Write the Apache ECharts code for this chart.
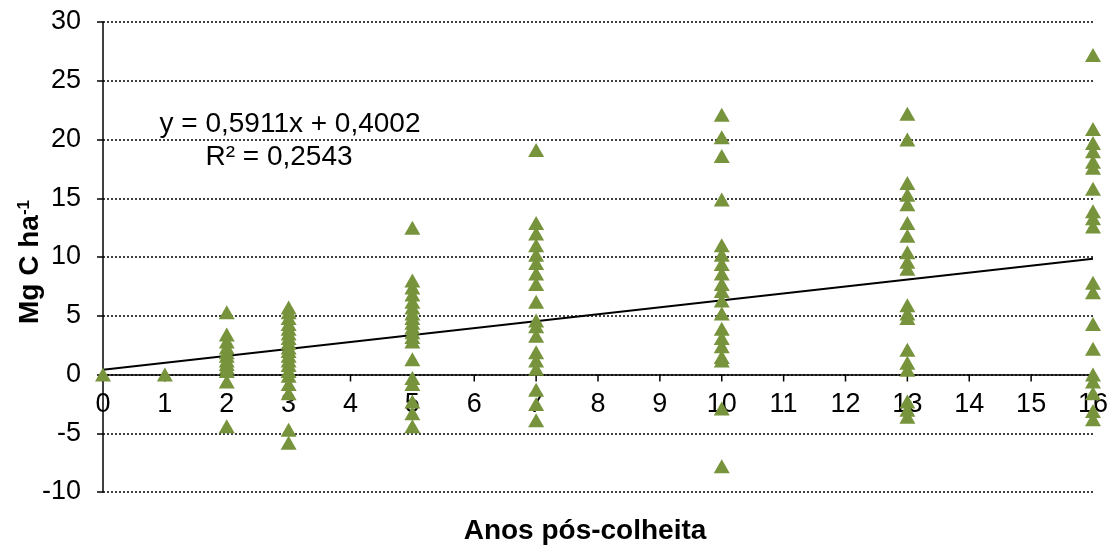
<!DOCTYPE html>
<html>
<head>
<meta charset="utf-8">
<script src="https://cdn.jsdelivr.net/npm/echarts@6/dist/echarts.min.js"></script>
<style>
  html, body { margin: 0; padding: 0; background: #fff; }
  #chart { width: 1115px; height: 549px; }
</style>
</head>
<body>
<div id="chart"></div>
<script>
// Years after harvest and the carbon measured at each (Mg C ha-1)
const years = [0, 1, 2, 3, 5, 7, 10, 13, 16];
const carbonByYear = [
  [0],
  [0],
  [5.3, 3.4, 2.8, 2.3, 1.9, 1.6, 1.2, 0.9, 0.6, 0.3, -0.6, -4.4],
  [5.7, 5.3, 4.8, 4.3, 3.9, 3.5, 3.1, 2.7, 2.3, 2.0, 1.6, 1.2, 0.8, 0.3, -0.1, -0.8, -1.6, -4.7, -5.8],
  [12.5, 8.0, 7.4, 6.8, 6.2, 5.7, 5.2, 4.8, 4.4, 4.0, 3.6, 3.2, 2.8, 1.3, -0.3, -0.8, -2.3, -3.3, -4.4],
  [19.1, 12.9, 12.0, 11.0, 10.2, 9.5, 8.6, 7.7, 6.2, 4.6, 4.1, 3.3, 1.9, 1.2, 0.5, -1.3, -2.5, -3.9],
  [22.1, 20.2, 18.6, 14.9, 11.0, 10.2, 9.4, 8.6, 7.7, 7.1, 6.3, 5.2, 3.9, 3.1, 2.4, 1.5, 1.2, -2.9, -7.8],
  [22.2, 20.0, 16.3, 15.3, 14.5, 12.9, 11.8, 10.4, 9.6, 9.0, 5.9, 5.2, 4.8, 2.1, 1.0, 0.4, -2.3, -3.0, -3.6],
  [27.2, 20.9, 19.7, 19.0, 18.1, 17.6, 15.8, 13.9, 13.3, 12.6, 7.8, 7.0, 4.3, 2.2, 0.0, -0.6, -1.6, -3.1, -3.8]
];

// Linear trend line
const slope = 0.5911;
const intercept = 0.4002;
const rSquared = 0.2543;
const trendRange = [0, 16];

// Axis settings
const xTicks = [0, 1, 2, 3, 4, 5, 6, 7, 8, 9, 10, 11, 12, 13, 14, 15, 16];
const yRange = [-10, 30];
const yStep = 5;

const FONT = 'Arial, "Liberation Sans", sans-serif';
const GREEN = '#77933C';

const points = [];
years.forEach((yr, i) => carbonByYear[i].forEach(v => points.push([yr, v])));
const trend = trendRange.map(x => [x, slope * x + intercept]);
const fmt = (v) => v.toFixed(4).replace('.', ',');

const chart = echarts.init(document.getElementById('chart'), null, { renderer: 'canvas' });
chart.setOption({
  animation: false,
  backgroundColor: '#fff',
  grid: { left: 103, right: 22, top: 22, bottom: 57, containLabel: false },
  xAxis: {
    type: 'value',
    min: xTicks[0], max: xTicks[xTicks.length - 1], interval: 1,
    axisLine: { onZero: true, lineStyle: { color: '#000', width: 1.5 } },
    axisTick: { show: false },
    axisLabel: { show: false },
    splitLine: { show: false }
  },
  yAxis: {
    type: 'value',
    min: yRange[0], max: yRange[1], interval: yStep,
    axisLine: { show: true, onZero: false, lineStyle: { color: '#000', width: 1.5 } },
    axisTick: { show: true, length: 6, lineStyle: { color: '#000', width: 1.5 } },
    axisLabel: { color: '#000', fontFamily: FONT, fontSize: 27, margin: 22 },
    splitLine: { show: true, lineStyle: { color: '#000', width: 1.5, type: [2, 2] } }
  },
  series: [
    {
      // tick marks and labels of the year axis, sitting on the zero line
      type: 'scatter',
      data: xTicks.map(x => [x, 0]),
      symbol: 'rect',
      symbolSize: [1.5, 7],
      symbolOffset: [0, 3.5],
      itemStyle: { color: '#000', opacity: 1 },
      label: {
        show: true,
        position: 'bottom',
        distance: 10,
        formatter: (p) => String(p.value[0]),
        color: '#000', fontFamily: FONT, fontSize: 27
      },
      silent: true,
      z: 2
    },
    {
      type: 'line',
      data: trend,
      symbol: 'none',
      lineStyle: { color: '#000', width: 2 },
      z: 3
    },
    {
      type: 'scatter',
      data: points,
      symbol: 'triangle',
      symbolSize: [16, 14],
      itemStyle: { color: GREEN, opacity: 1 },
      z: 4
    }
  ],
  graphic: [
    {
      type: 'text', x: 290, y: 124, z: 10,
      style: { text: 'y = ' + fmt(slope) + 'x + ' + fmt(intercept), font: '28px ' + FONT, fill: '#000', align: 'center', verticalAlign: 'middle' }
    },
    {
      type: 'text', x: 279, y: 157, z: 10,
      style: { text: 'R² = ' + fmt(rSquared), font: '28px ' + FONT, fill: '#000', align: 'center', verticalAlign: 'middle' }
    },
    {
      type: 'text', x: 585, y: 531, z: 10,
      style: { text: 'Anos pós-colheita', font: 'bold 28px ' + FONT, fill: '#000', align: 'center', verticalAlign: 'middle' }
    },
    {
      type: 'text', x: 30, y: 262, rotation: Math.PI / 2, z: 10,
      style: {
        text: '{b|Mg C ha}{s|-1}',
        align: 'center', verticalAlign: 'middle',
        rich: {
          b: { font: 'bold 28px ' + FONT, fill: '#000', verticalAlign: 'bottom' },
          s: { font: 'bold 17px ' + FONT, fill: '#000', verticalAlign: 'top', padding: [0, 0, 12, 0] }
        }
      }
    }
  ]
});
</script>
</body>
</html>
